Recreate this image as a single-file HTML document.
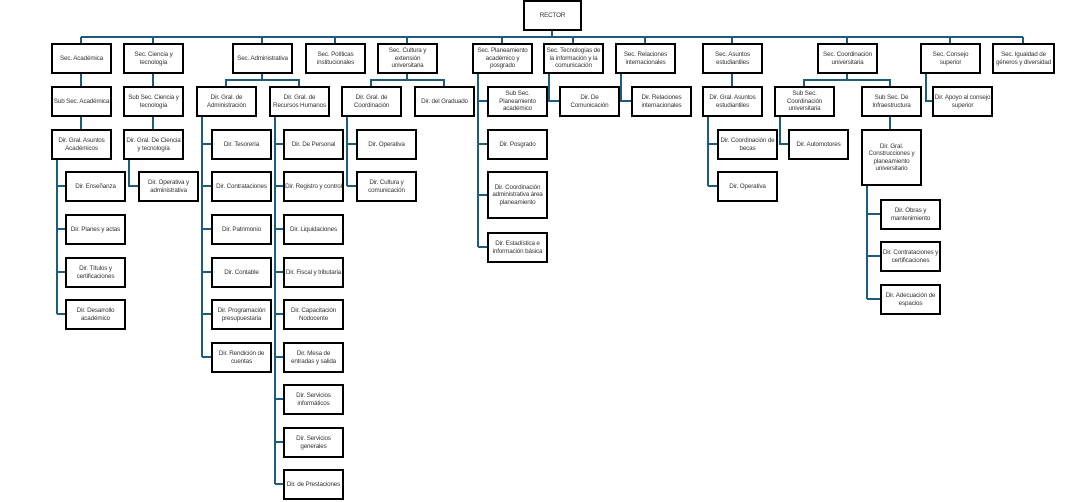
<!DOCTYPE html>
<html><head><meta charset="utf-8"><style>
html,body{margin:0;padding:0;background:#fff;}
body{width:1071px;height:502px;position:relative;overflow:hidden;font-family:"Liberation Sans",sans-serif;}
.b{position:absolute;border:2px solid #000;box-sizing:border-box;background:#fff;display:flex;align-items:center;justify-content:center;text-align:center;font-size:6.3px;line-height:7.4px;letter-spacing:-0.15px;color:#333;width:61px;height:31px;padding:0;}
svg{position:absolute;left:0;top:0;}
</style></head><body>
<svg width="1071" height="502" fill="none" stroke="#1d5c7c" stroke-width="2">
<path d="M552 31V37M81 37H1023M81 37V43M153 37V43M262 37V43M335 37V43M407 37V43M502 37V43M573 37V43M645 37V43M732 37V43M847 37V43M950 37V43M1023 37V43"/>
<path d="M81 73V86M81 116V129M153 73V86M153 116V129M732 73V86"/>
<path d="M262 73V80H226V86M262 80H299V86"/>
<path d="M407 73V80H371V86M407 80H444V86"/>
<path d="M847 73V80H804V86M847 80H890V86M890 116V129"/>
<path d="M478 73V247M478 101H487M478 144H487M478 195H487M478 247H487"/>
<path d="M549 73V101H559M621 73V101H631M926 73V101H932"/>
<path d="M708 116V186M708 144H717M708 186H717"/>
<path d="M780 116V144H788"/>
<path d="M867 185V299M867 214H880M867 256H880M867 299H880"/>
<path d="M57 159V314M57 186H65M57 229H65M57 272H65M57 314H65"/>
<path d="M129 159V186H138"/>
<path d="M202 116V357M202 144H211M202 186H211M202 229H211M202 272H211M202 314H211M202 357H211"/>
<path d="M275 116V484M275 144H283M275 186H283M275 229H283M275 272H283M275 314H283M275 357H283M275 399H283M275 442H283M275 484H283"/>
<path d="M347 116V186M347 144H356M347 186H356"/>
</svg>

<div class="b" style="left:523px;top:0;width:59px;height:31px">RECTOR</div>

<div class="b" style="left:51px;top:43px">Sec. Académica</div>
<div class="b" style="left:123px;top:43px">Sec. Ciencia y tecnología</div>
<div class="b" style="left:232px;top:43px">Sec. Administrativa</div>
<div class="b" style="left:305px;top:43px">Sec. Políticas institucionales</div>
<div class="b" style="left:377px;top:43px">Sec. Cultura y extensión universitaria</div>
<div class="b" style="left:472px;top:43px">Sec. Planeamiento académico y posgrado</div>
<div class="b" style="left:543px;top:43px">Sec. Tecnologías de la información y la comunicación</div>
<div class="b" style="left:615px;top:43px">Sec. Relaciones internacionales</div>
<div class="b" style="left:702px;top:43px">Sec. Asuntos estudiantiles</div>
<div class="b" style="left:817px;top:43px">Sec. Coordinación universitaria</div>
<div class="b" style="left:920px;top:43px">Sec. Consejo superior</div>
<div class="b" style="left:992px;top:43px;width:63px">Sec. Igualdad de géneros y diversidad</div>

<div class="b" style="left:51px;top:86px">Sub Sec. Académica</div>
<div class="b" style="left:123px;top:86px">Sub Sec. Ciencia y tecnología</div>
<div class="b" style="left:196px;top:86px">Dir. Gral. de Administración</div>
<div class="b" style="left:269px;top:86px">Dir. Gral. de Recursos Humanos</div>
<div class="b" style="left:341px;top:86px">Dir. Gral. de Coordinación</div>
<div class="b" style="left:414px;top:86px">Dir. del Graduado</div>
<div class="b" style="left:487px;top:86px">Sub Sec. Planeamiento académico</div>
<div class="b" style="left:559px;top:86px">Dir. De Comunicación</div>
<div class="b" style="left:631px;top:86px">Dir. Relaciones internacionales</div>
<div class="b" style="left:702px;top:86px">Dir. Gral. Asuntos estudiantiles</div>
<div class="b" style="left:774px;top:86px">Sub Sec. Coordinación universitaria</div>
<div class="b" style="left:861px;top:86px">Sub Sec. De Infraestructura</div>
<div class="b" style="left:932px;top:86px">Dir. Apoyo al consejo superior</div>

<div class="b" style="left:51px;top:129px">Dir. Gral. Asuntos Académicos</div>
<div class="b" style="left:123px;top:129px">Dir. Gral. De Ciencia y tecnología</div>
<div class="b" style="left:211px;top:129px">Dir. Tesorería</div>
<div class="b" style="left:283px;top:129px">Dir. De Personal</div>
<div class="b" style="left:356px;top:129px">Dir. Operativa</div>
<div class="b" style="left:487px;top:129px">Dir. Posgrado</div>
<div class="b" style="left:717px;top:129px">Dir. Coordinación de becas</div>
<div class="b" style="left:788px;top:129px">Dir. Automotores</div>
<div class="b" style="left:861px;top:129px;height:57px">Dir. Gral. Construcciones y planeamiento universitario</div>

<div class="b" style="left:65px;top:171px">Dir. Enseñanza</div>
<div class="b" style="left:138px;top:171px">Dir. Operativa y administrativa</div>
<div class="b" style="left:211px;top:171px">Dir. Contrataciones</div>
<div class="b" style="left:283px;top:171px">Dir. Registro y control</div>
<div class="b" style="left:356px;top:171px">Dir. Cultura y comunicación</div>
<div class="b" style="left:487px;top:171px;height:48px">Dir. Coordinación administrativa área planeamiento</div>
<div class="b" style="left:717px;top:171px">Dir. Operativa</div>

<div class="b" style="left:880px;top:199px">Dir. Obras y mantenimiento</div>
<div class="b" style="left:65px;top:214px">Dir. Planes y actas</div>
<div class="b" style="left:211px;top:214px">Dir. Patrimonio</div>
<div class="b" style="left:283px;top:214px">Dir. Liquidaciones</div>
<div class="b" style="left:487px;top:232px">Dir. Estadística e información básica</div>
<div class="b" style="left:880px;top:241px">Dir. Contrataciones y certificaciones</div>

<div class="b" style="left:65px;top:257px">Dir. Títulos y certificaciones</div>
<div class="b" style="left:211px;top:257px">Dir. Contable</div>
<div class="b" style="left:283px;top:257px">Dir. Fiscal y tributaria</div>
<div class="b" style="left:880px;top:284px">Dir. Adecuación de espacios</div>

<div class="b" style="left:65px;top:299px">Dir. Desarrollo académico</div>
<div class="b" style="left:211px;top:299px">Dir. Programación presupuestaria</div>
<div class="b" style="left:283px;top:299px">Dir. Capacitación Nodocente</div>

<div class="b" style="left:211px;top:342px">Dir. Rendición de cuentas</div>
<div class="b" style="left:283px;top:342px">Dir. Mesa de entradas y salida</div>
<div class="b" style="left:283px;top:384px">Dir. Servicios informáticos</div>
<div class="b" style="left:283px;top:427px">Dir. Servicios generales</div>
<div class="b" style="left:283px;top:469px">Dir. de Prestaciones</div>
</body></html>
